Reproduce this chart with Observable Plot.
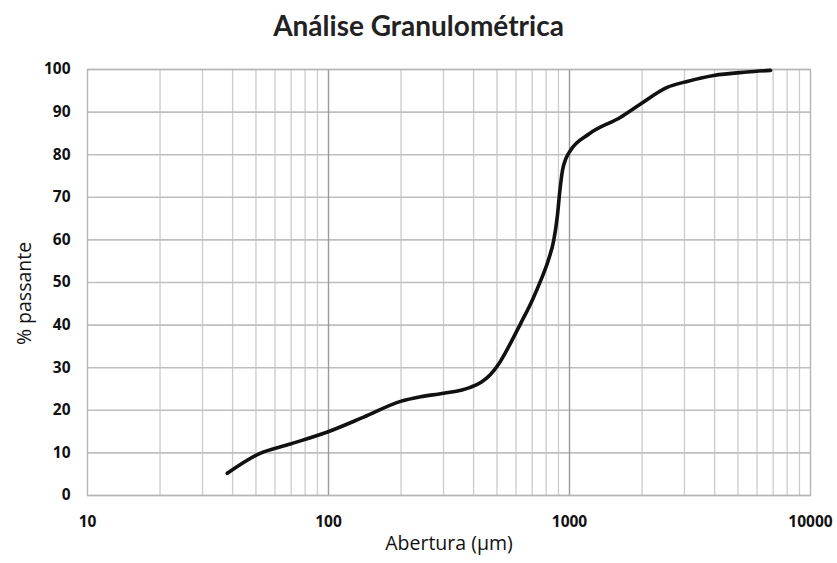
<!DOCTYPE html>
<html>
<head>
<meta charset="utf-8">
<script src="https://cdn.jsdelivr.net/npm/d3@7"></script>
<script src="https://cdn.jsdelivr.net/npm/@observablehq/plot@0.6"></script>
<style>
  html, body { margin: 0; padding: 0; background: #fff; }
  #title { width: 837px; height: 50px; line-height: 50px; text-align: center;
           font-family: Lato, "Open Sans", sans-serif; font-weight: bold; font-size: 28px; color: #222; }
</style>
</head>
<body>
<div id="title">Análise Granulométrica</div>
<div id="chart"></div>
<script>
// Particle size (µm) and cumulative % passing
const aberturaUm = [38, 52, 69.5, 99, 140, 199, 241, 301, 388, 430, 470, 510, 560, 626, 700, 760, 820, 861, 890, 912, 935, 965, 1009, 1200, 1629, 1972, 2541, 3076, 3970, 5457, 6824];
const passante   = [5.2, 9.9, 12.1, 14.9, 18.4, 22.1, 23.2, 24.0, 25.4, 26.6, 28.4, 31.0, 35.0, 40.3, 45.8, 50.5, 55.5, 60.0, 65.5, 71.5, 76.3, 79.0, 81.0, 84.8, 88.8, 91.9, 95.8, 97.2, 98.6, 99.4, 99.8];

const xTickLabels = [10, 100, 1000, 10000];
const yTickLabels = [0, 10, 20, 30, 40, 50, 60, 70, 80, 90, 100];
const xMultipliers = [2, 3, 4, 5, 6, 7, 8, 9];

const data = aberturaUm.map((d, i) => ({x: d, y: passante[i]}));
const minorGrid = [10, 100, 1000].flatMap(dec => xMultipliers.map(m => dec * m));

const chart = Plot.plot({
  width: 837,
  height: 513,
  marginTop: 19,
  marginBottom: 68,
  marginLeft: 87,
  marginRight: 27,
  style: {fontFamily: "'Open Sans', Lato, sans-serif", color: "#111", background: "#fff"},
  x: {type: "log", domain: [10, 10000]},
  y: {domain: [0, 100]},
  marks: [
    Plot.ruleX(minorGrid, {stroke: "#cbcbcb", strokeWidth: 1.3}),
    Plot.ruleY(yTickLabels, {stroke: "#bfbfbf", strokeWidth: 1.6}),
    Plot.ruleX([100, 1000], {stroke: "#9a9a9a", strokeWidth: 1.4}),
    Plot.frame({stroke: "#b5b5b5", strokeWidth: 1.4}),
    Plot.axisX(xTickLabels, {tickSize: 0, tickPadding: 20, tickFormat: d => String(d), fontSize: 15.5, fontWeight: "bold", label: null}),
    Plot.axisY(yTickLabels, {tickSize: 0, tickPadding: 17, fontSize: 15.5, fontWeight: "bold", label: null}),
    Plot.line(data, {x: "x", y: "y", curve: "monotone-x", stroke: "#111", strokeWidth: 3.6}),
    Plot.text(["Abertura (μm)"], {frameAnchor: "bottom", dy: 54, fontSize: 19.5, fill: "#111"}),
    Plot.text(["% passante"], {frameAnchor: "left", textAnchor: "middle", dx: -63, dy: 11, rotate: -90, fontSize: 19.5, fill: "#111"})
  ]
});
document.getElementById("chart").appendChild(chart);
</script>
</body>
</html>
